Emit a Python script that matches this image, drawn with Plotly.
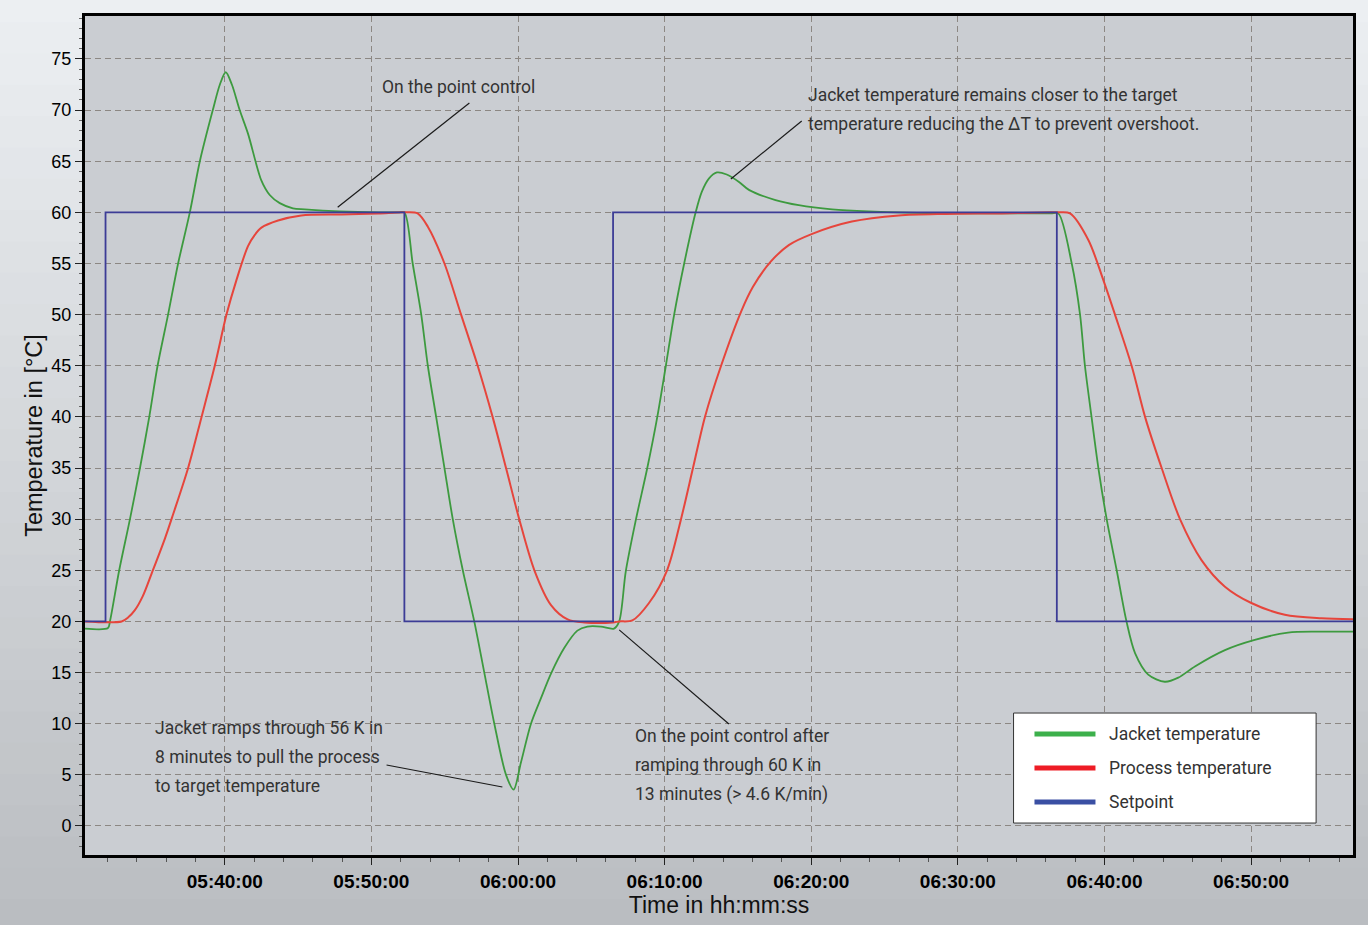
import plotly.graph_objects as go

DAY = "2024-01-01 "

# ---- data -------------------------------------------------------------
series_names = ["Jacket temperature", "Process temperature", "Setpoint"]

setpoint_time = ["05:30:28", "05:31:52", "05:52:15", "06:06:29", "06:36:45", "06:57:05"]
setpoint_temp = [20, 60, 20, 60, 20, 20]

jacket_time = [
    "05:30:28", "05:32:02", "05:32:10", "05:32:48", "05:33:32", "05:34:13", "05:34:51",
    "05:35:25", "05:36:08", "05:36:49", "05:37:37", "05:38:18", "05:39:11", "05:39:40",
    "05:40:04", "05:40:29", "05:41:01", "05:41:35", "05:42:30", "05:43:04", "05:43:45",
    "05:44:39", "05:45:27", "05:47:50", "05:50:30", "05:51:50", "05:52:15", "05:52:49",
    "05:53:24", "05:53:51", "05:54:25", "05:54:59", "05:55:33", "05:56:14", "05:57:01",
    "05:57:42", "05:58:23", "05:59:11", "05:59:42", "06:00:12", "06:00:53", "06:01:34",
    "06:02:15", "06:03:09", "06:04:03", "06:04:44", "06:05:39", "06:06:33", "06:06:54",
    "06:07:21", "06:08:02", "06:08:49", "06:09:30", "06:10:05", "06:10:39", "06:11:20",
    "06:12:07", "06:12:32", "06:13:01", "06:13:34", "06:14:14", "06:15:03", "06:15:45",
    "06:17:34", "06:19:09", "06:21:25", "06:23:55", "06:29:22", "06:33:00", "06:36:20",
    "06:36:51", "06:37:46", "06:38:20", "06:38:40", "06:39:07", "06:39:35", "06:40:09",
    "06:40:50", "06:41:30", "06:42:05", "06:42:59", "06:44:07", "06:45:02", "06:46:10",
    "06:48:13", "06:50:15", "06:52:31", "06:54:34", "06:57:05",
]
jacket_temp = [
    19.3, 19.35, 20.0, 25.0, 30.0, 35.0, 40.0,
    45.0, 50.0, 55.0, 60.0, 65.0, 70.0, 72.5,
    73.7, 72.5, 70.0, 67.7, 63.1, 61.7, 60.9,
    60.4, 60.3, 60.1, 60.0, 60.0, 60.0, 55.0,
    50.0, 45.0, 40.0, 35.0, 30.0, 25.0, 20.0,
    15.0, 10.0, 5.0, 3.55, 6.2, 10.0, 12.5,
    14.9, 17.4, 19.1, 19.5, 19.5, 19.3, 20.0,
    24.9, 29.9, 35.0, 40.0, 45.0, 50.0, 55.0,
    60.0, 62.0, 63.3, 63.9, 63.7, 63.0, 62.2,
    61.2, 60.7, 60.3, 60.1, 59.9, 59.9, 59.9,
    59.9, 55.0, 50.0, 45.0, 40.0, 35.0, 30.0,
    25.0, 20.0, 16.9, 14.8, 14.1, 14.5, 15.6,
    17.2, 18.2, 18.9, 19.0, 19.0,
]

process_time = [
    "05:30:28", "05:32:58", "05:33:25", "05:33:52", "05:34:25", "05:35:01", "05:35:55",
    "05:36:29", "05:37:30", "05:38:25", "05:39:19", "05:40:07", "05:40:48", "05:41:35",
    "05:42:03", "05:42:30", "05:43:38", "05:45:13", "05:47:57", "05:50:30", "05:52:15",
    "05:53:09", "05:53:51", "05:54:59", "05:56:07", "05:57:15", "05:58:16", "05:59:11",
    "06:00:05", "06:01:07", "06:02:15", "06:03:23", "06:04:31", "06:06:29", "06:06:54",
    "06:07:48", "06:08:56", "06:10:10", "06:11:07", "06:11:56", "06:12:45", "06:13:51",
    "06:15:13", "06:16:01", "06:17:15", "06:18:28", "06:20:04", "06:22:46", "06:25:58",
    "06:29:09", "06:33:00", "06:36:20", "06:36:51", "06:37:39", "06:38:54", "06:39:55",
    "06:40:43", "06:41:51", "06:42:46", "06:43:54", "06:45:09", "06:46:37", "06:48:13",
    "06:50:01", "06:52:18", "06:54:48", "06:57:05",
]
process_temp = [
    20.0, 20.0, 20.4, 21.1, 22.5, 24.7, 28.1,
    30.5, 35.0, 40.0, 45.0, 50.0, 53.4, 56.7,
    57.8, 58.5, 59.2, 59.7, 59.8, 59.9, 60.0,
    59.9, 58.6, 55.0, 50.0, 45.0, 40.0, 35.0,
    30.0, 25.0, 21.6, 20.2, 19.9, 19.9, 20.0,
    20.1, 21.8, 25.0, 30.0, 35.0, 40.0, 45.0,
    50.3, 52.7, 55.2, 56.8, 57.9, 59.1, 59.7,
    59.85, 59.9, 60.0, 60.0, 59.9, 57.3, 53.4,
    50.0, 45.0, 40.0, 35.0, 30.0, 26.0, 23.4,
    21.8, 20.65, 20.3, 20.2,
]

y_ticks = list(range(0, 80, 5))

# ---- styling ----------------------------------------------------------
line_colors = ["#3d9a3f", "#e6453c", "#3c3c96"]
legend_colors = ["#3cb04b", "#ee1c25", "#3a4fa3"]
TEXT_FONT = dict(family="Roboto", size=17.5, color="#333333")
SMOOTH = 0.85


def stamp(times):
    return [DAY + t for t in times]


fig = go.Figure()
fig.add_trace(go.Scatter(x=stamp(jacket_time), y=jacket_temp, mode="lines",
                         name=series_names[0], line=dict(color=line_colors[0], width=1.8,
                                                         shape="spline", smoothing=SMOOTH)))
fig.add_trace(go.Scatter(x=stamp(process_time), y=process_temp, mode="lines",
                         name=series_names[1], line=dict(color=line_colors[1], width=2,
                                                         shape="spline", smoothing=SMOOTH)))
fig.add_trace(go.Scatter(x=stamp(setpoint_time), y=setpoint_temp, mode="lines",
                         name=series_names[2], line=dict(color=line_colors[2], width=1.8,
                                                         shape="hv")))

shapes = []
# soft vertical gradient behind the whole figure
top_rgb = (236, 239, 242)
bot_rgb = (186, 189, 193)
n_bands = 30
y_lo, y_hi = -0.09, 1.03
for i in range(n_bands):
    f = i / (n_bands - 1)
    r, g, b = (round(bot_rgb[k] + (top_rgb[k] - bot_rgb[k]) * f) for k in range(3))
    y0 = y_lo + (y_hi - y_lo) * i / n_bands
    y1 = y_lo + (y_hi - y_lo) * (i + 1) / n_bands + 0.002
    shapes.append(dict(type="rect", xref="paper", yref="paper", x0=-0.1, x1=1.1,
                       y0=y0, y1=y1, fillcolor=f"rgb({r},{g},{b})", line_width=0,
                       layer="below"))
# plotting area fill
shapes.append(dict(type="rect", xref="paper", yref="paper", x0=0, x1=1, y0=0, y1=1,
                   fillcolor="#cacdd2", line_width=0, layer="below"))

# callout leader lines
leaders = [
    (("05:56:41", 70.7), ("05:47:42", 60.5)),
    (("06:19:21", 68.94), ("06:14:31", 63.26)),
    (("05:51:02", 5.96), ("05:58:56", 3.81)),
    (("06:06:54", 19.17), ("06:14:23", 9.97)),
]
for (t0, v0), (t1, v1) in leaders:
    shapes.append(dict(type="line", x0=DAY + t0, y0=v0, x1=DAY + t1, y1=v1,
                       line=dict(color="#1a1a1a", width=1.2)))

annotations = []
callouts = [
    ("05:50:37", [72.26], ["On the point control"]),
    ("06:19:38", [71.48, 68.64], ["Jacket temperature remains closer to the target",
                                  "temperature reducing the ΔT to prevent overshoot."]),
    ("05:35:06", [9.58, 6.75, 3.91], ["Jacket ramps through 56 K in",
                                      "8 minutes to pull the process",
                                      "to target temperature"]),
    ("06:07:51", [8.80, 5.96, 3.03], ["On the point control after",
                                      "ramping through 60 K in",
                                      "13 minutes (> 4.6 K/min)"]),
]
for t, ys, lines in callouts:
    for yv, txt in zip(ys, lines):
        annotations.append(dict(x=DAY + t, y=yv, text=txt, showarrow=False,
                                xanchor="left", yanchor="middle", font=TEXT_FONT))

# legend box drawn in paper space
box = dict(x0=0.7323, x1=0.9709, y0=0.0381, y1=0.1692)
shapes.append(dict(type="rect", xref="paper", yref="paper", **box,
                   fillcolor="white", line=dict(color="#333333", width=1)))
row_y = [0.1442, 0.1037, 0.0632]
for name, col, yy in zip(series_names, legend_colors, row_y):
    shapes.append(dict(type="line", xref="paper", yref="paper", x0=0.7488, x1=0.7969,
                       y0=yy, y1=yy, line=dict(color=col, width=5)))
    annotations.append(dict(xref="paper", yref="paper", x=0.8063, y=yy, text=name,
                            showarrow=False, xanchor="left", yanchor="middle",
                            font=TEXT_FONT))

fig.update_layout(
    width=1368, height=925,
    margin=dict(l=85, r=13, t=16, b=70),
    paper_bgcolor="#d0d3d7",
    plot_bgcolor="rgba(0,0,0,0)",
    showlegend=False,
    shapes=shapes,
    annotations=annotations,
)

fig.update_xaxes(
    type="date",
    range=[DAY + "05:30:28", DAY + "06:56:57"],
    tick0=DAY + "05:40:00", dtick=600000, tickformat="%H:%M:%S",
    tickfont=dict(family="Liberation Sans", size=19, color="black", weight="bold"),
    ticks="outside", ticklen=7, tickcolor="#222222", tickwidth=1,
    minor=dict(dtick=120000, ticks="outside", ticklen=4, tickcolor="#555555", showgrid=False),
    showgrid=True, gridcolor="#8c8783", gridwidth=1, griddash="6px,4px",
    showline=True, linecolor="black", linewidth=3, mirror=True,
    zeroline=False,
    title=dict(text="Time in hh:mm:ss", standoff=5,
               font=dict(family="Liberation Sans", size=23, color="#111111")),
)
fig.update_yaxes(
    range=[-2.84, 79.2],
    tickvals=y_ticks,
    tickfont=dict(family="Liberation Sans", size=18, color="black"),
    ticks="outside", ticklen=7, tickcolor="#222222", tickwidth=1,
    minor=dict(dtick=1, ticks="outside", ticklen=3, tickcolor="#666666", showgrid=False),
    showgrid=True, gridcolor="#8c8783", gridwidth=1, griddash="6px,4px",
    showline=True, linecolor="black", linewidth=3, mirror=True,
    zeroline=False,
    title=dict(text="Temperature in [°C]", standoff=3,
               font=dict(family="Liberation Sans", size=23.5, color="#111111")),
)

fig.write_html("out.html")
